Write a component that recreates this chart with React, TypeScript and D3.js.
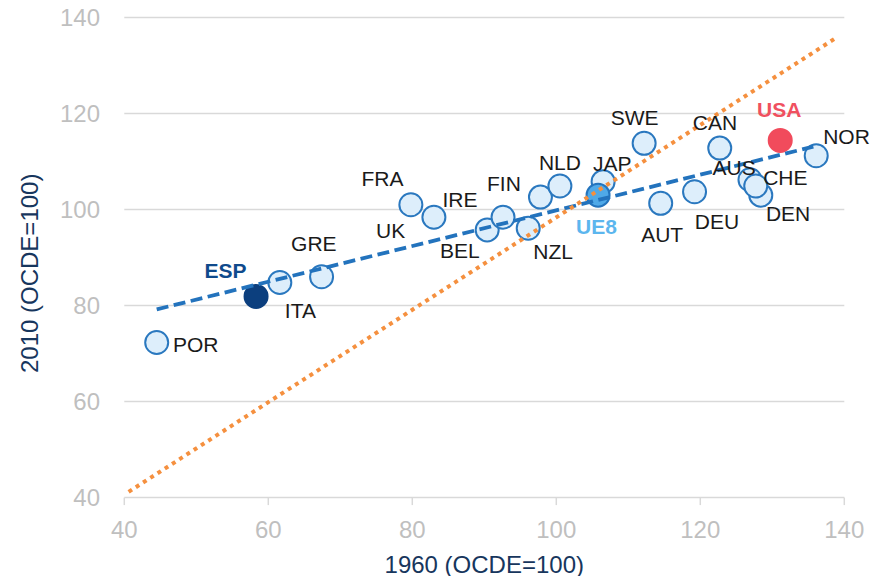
import React from "react";
import * as d3 from "d3";

// ---- data ----
const countries = ["POR","ESP","ITA","GRE","FRA","UK","BEL","IRE","NZL","FIN","NLD","JAP","UE8","SWE","AUT","DEU","CAN","AUS","DEN","CHE","USA","NOR"];
const value1960 = [44.5,58.3,61.6,67.4,79.8,83.0,90.4,92.6,96.1,97.8,100.5,106.5,105.8,112.2,114.5,119.2,122.7,126.9,128.4,127.7,131.1,136.1];
const value2010 = [72.3,81.9,84.8,86.0,101.0,98.4,95.75,98.4,96.1,102.6,104.9,105.8,103.0,113.8,101.3,103.7,112.8,106.2,103.0,104.9,114.4,111.2];
const trendX = [44.5, 135.7];
const trendY = [79.2, 113.1];
const refX = [40.6, 139.0];
const refY = [41.2, 135.9];
const xTicks = [40, 60, 80, 100, 120, 140];
const yTicks = [40, 60, 80, 100, 120, 140];
const xTitle = "1960 (OCDE=100)";
const yTitle = "2010 (OCDE=100)";

// label placement (pixel offsets from point centre to label centre)
const labelOffsets: Record<string, [number, number]> = {
  POR: [39, 1.6], ESP: [-30.5, -26], ITA: [20.6, 27.5], GRE: [-7.7, -33.4],
  FRA: [-28.4, -26.7], UK: [-43.2, 13.4], BEL: [-27.3, 20.7], IRE: [-43, -17.3],
  NZL: [24.9, 23.4], FIN: [-36.5, -14], NLD: [0, -23.3], JAP: [9.2, -18.4],
  UE8: [-1.6, 31.7], SWE: [-9.5, -26], AUT: [1.5, 31.7], DEU: [22.4, 30],
  CAN: [-4.7, -25.6], AUS: [-15.8, -12.7], DEN: [27.3, 18.3], CHE: [29.6, -8.7],
  USA: [-1, -31.4], NOR: [30.3, -19.3],
};

const special: Record<string, { fill: string; stroke: string; label: string }> = {
  ESP: { fill: "#0c3f7e", stroke: "#0c3f7e", label: "#0f4a8c" },
  UE8: { fill: "#4fa9e8", stroke: "#2474bd", label: "#5cb6ee" },
  USA: { fill: "#f14b5c", stroke: "#f14b5c", label: "#f0505f" },
};

const FONT = "'Liberation Sans', Arial, Helvetica, sans-serif";

export default function App() {
  const W = 870, H = 576;
  const x = d3.scaleLinear().domain([40, 140]).range([124.3, 844.3]);
  const y = d3.scaleLinear().domain([40, 140]).range([497.6, 17.5]);

  const line = d3.line<[number, number]>().x(d => x(d[0])).y(d => y(d[1]));
  const trend = line(trendX.map((v, i) => [v, trendY[i]] as [number, number])) || "";
  const ref = line(refX.map((v, i) => [v, refY[i]] as [number, number])) || "";

  const pts = countries.map((c, i) => ({ c, vx: value1960[i], vy: value2010[i] }));
  // drawing order: CHE last of its cluster, UE8 after JAP
  const drawOrder = [...pts];

  return (
    <svg width={W} height={H} style={{ position: "absolute", left: 0, top: 0, background: "#fff" }} fontFamily={FONT}>
      {/* gridlines */}
      {yTicks.map(t => (
        <line key={"g" + t} x1={x(40)} x2={x(140)} y1={y(t)} y2={y(t)} stroke="#d9d9d9" strokeWidth={1.5} />
      ))}
      {/* x-axis ticks */}
      {xTicks.map(t => (
        <line key={"xt" + t} x1={x(t)} x2={x(t)} y1={y(40)} y2={y(40) + 7.5} stroke="#d9d9d9" strokeWidth={1.5} />
      ))}
      {/* y tick labels */}
      {yTicks.map(t => (
        <text key={"yl" + t} x={100} y={y(t) + 8.6} textAnchor="end" fontSize={24} fill="#bfbfbf">{t}</text>
      ))}
      {/* x tick labels */}
      {xTicks.map(t => (
        <text key={"xl" + t} x={x(t)} y={538.3} textAnchor="middle" fontSize={24} fill="#bfbfbf">{t}</text>
      ))}
      {/* axis titles */}
      <text x={(x(40) + x(140)) / 2} y={572.5} textAnchor="middle" fontSize={24} fill="#17365d">{xTitle}</text>
      <text transform={`translate(37.5,273.3) rotate(-90)`} textAnchor="middle" fontSize={24} fill="#17365d">{yTitle}</text>

      {/* points */}
      {drawOrder.map(p => {
        const s = special[p.c];
        return (
          <circle key={"c" + p.c} cx={x(p.vx)} cy={y(p.vy)} r={11.5}
            fill={s ? s.fill : "#ddeefb"} stroke={s ? s.stroke : "#2a78bf"} strokeWidth={2} />
        );
      })}

      {/* trend line and reference line */}
      <path d={trend} fill="none" stroke="#2373bd" strokeWidth={3.8} strokeDasharray="12 5.5" />
      <path d={ref} fill="none" stroke="#f5903f" strokeWidth={4} strokeDasharray="4 4.6" />

      {/* labels */}
      {pts.map(p => {
        const s = special[p.c];
        const [dx, dy] = labelOffsets[p.c] || [0, -20];
        return (
          <text key={"l" + p.c} x={x(p.vx) + dx} y={y(p.vy) + dy + 7.5} textAnchor="middle"
            fontSize={21} fontWeight={s ? "bold" : "normal"} fill={s ? s.label : "#1a1a1a"}>{p.c}</text>
        );
      })}
    </svg>
  );
}
